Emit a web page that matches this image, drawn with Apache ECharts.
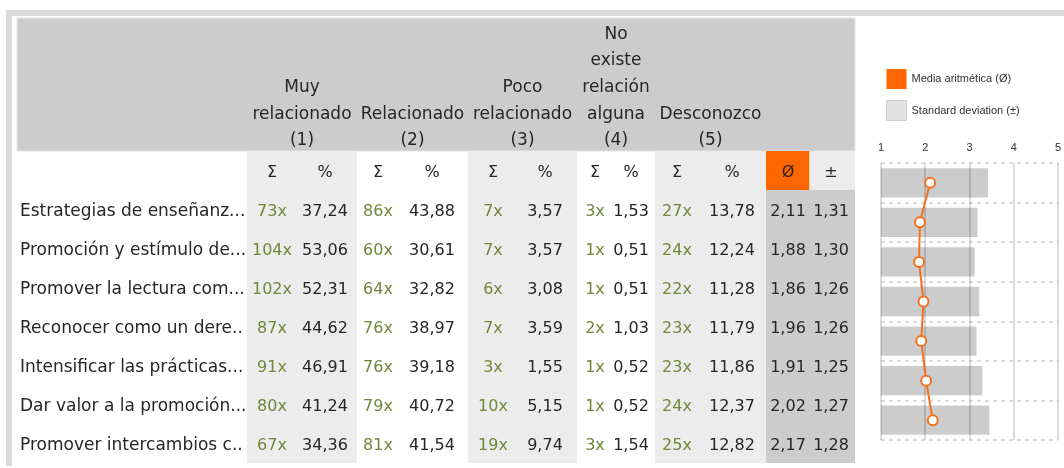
<!DOCTYPE html>
<html>
<head>
<meta charset="utf-8">
<script src="https://cdn.jsdelivr.net/npm/echarts@6/dist/echarts.min.js"></script>
<style>
  html, body { margin: 0; padding: 0; background: #fff; }
  #main { width: 1064px; height: 468px; }
</style>
</head>
<body>
<div id="main"></div>
<script>
// filas (texto visible, recortado como en el original)
const rowLabels = [
  'Estrategias de enseñanz...',
  'Promoción y estímulo de...',
  'Promover la lectura com...',
  'Reconocer como un dere..',
  'Intensificar las prácticas...',
  'Dar valor a la promoción...',
  'Promover intercambios c..'
];
// columnas de respuesta
const groupNames = [
  ['Muy', 'relacionado', '(1)'],
  ['Relacionado', '(2)'],
  ['Poco', 'relacionado', '(3)'],
  ['No', 'existe', 'relación', 'alguna', '(4)'],
  ['Desconozco', '(5)']
];
// Σ por fila y columna
const counts = [
  [73, 86, 7, 3, 27],
  [104, 60, 7, 1, 24],
  [102, 64, 6, 1, 22],
  [87, 76, 7, 2, 23],
  [91, 76, 3, 1, 23],
  [80, 79, 10, 1, 24],
  [67, 81, 19, 3, 25]
];
// % por fila y columna
const percents = [
  [37.24, 43.88, 3.57, 1.53, 13.78],
  [53.06, 30.61, 3.57, 0.51, 12.24],
  [52.31, 32.82, 3.08, 0.51, 11.28],
  [44.62, 38.97, 3.59, 1.03, 11.79],
  [46.91, 39.18, 1.55, 0.52, 11.86],
  [41.24, 40.72, 5.15, 0.52, 12.37],
  [34.36, 41.54, 9.74, 1.54, 12.82]
];
const means = [2.11, 1.88, 1.86, 1.96, 1.91, 2.02, 2.17];
const stdDevs = [1.31, 1.30, 1.26, 1.26, 1.25, 1.27, 1.28];
const scaleTicks = [1, 2, 3, 4, 5];

// layout de la tabla (px desde el borde izquierdo de la tabla)
const labelX = 3;
const groupEdges = [230, 340, 451, 560, 638, 749];
const sigmaX = [255, 361, 476, 578, 660];
const pctX = [308, 415, 528, 614, 715];
const meanX = 771, sdX = 814, tableW = 838;

const FONT = 'DejaVu Sans';
const ORANGE = '#ff6600';
const TXT = '#262626';
const fmt = v => v.toFixed(2).replace('.', ',');

let myChart = echarts.init(document.getElementById('main'));

// cabecera: líneas alineadas abajo
const headCells = [];
groupNames.forEach((lines, g) => {
  const cx = (groupEdges[g] + groupEdges[g + 1]) / 2;
  lines.forEach((t, i) => headCells.push([cx, 5 - lines.length + i, t]));
});

// celdas del cuerpo: [x, fila, texto, tipo] (0 número, 1 recuento, 2 etiqueta)
const bodyCells = [];
sigmaX.forEach((x, g) => {
  bodyCells.push([x, 0, 'Σ', 0]);
  bodyCells.push([pctX[g], 0, '%', 0]);
});
bodyCells.push([meanX, 0, 'Ø', 0]);
bodyCells.push([sdX, 0, '±', 0]);
rowLabels.forEach((label, r) => {
  bodyCells.push([labelX, r + 1, label, 2]);
  counts[r].forEach((c, g) => {
    bodyCells.push([sigmaX[g], r + 1, c + 'x', 1]);
    bodyCells.push([pctX[g], r + 1, fmt(percents[r][g]), 0]);
  });
  bodyCells.push([meanX, r + 1, fmt(means[r]), 0]);
  bodyCells.push([sdX, r + 1, fmt(stdDevs[r]), 0]);
});

// fondos: [x0, x1, fila0, fila1, color]
const bands = [
  [groupEdges[0], groupEdges[1], 0, 7, '#ececec'],
  [groupEdges[2], groupEdges[3], 0, 7, '#ececec'],
  [groupEdges[4], groupEdges[5], 0, 7, '#ececec'],
  [groupEdges[5], (meanX + sdX) / 2, 0, 0, ORANGE],
  [(meanX + sdX) / 2, tableW, 0, 0, '#ececec'],
  [groupEdges[5], tableW, 1, 7, '#cccccc']
];

const hiddenAxis = { show: false };

myChart.setOption({
  animation: false,
  textStyle: { fontFamily: FONT },
  graphic: [
    { type: 'rect', shape: { x: 6, y: 10, width: 1058, height: 6 }, style: { fill: '#dadada' } },
    { type: 'rect', shape: { x: 6, y: 10, width: 6, height: 456 }, style: { fill: '#dadada' } }
  ],
  legend: {
    orient: 'vertical',
    left: 881,
    top: 64,
    itemWidth: 20,
    itemHeight: 20,
    itemGap: 11,
    textStyle: { fontFamily: 'Liberation Sans', fontSize: 11, color: '#333' },
    data: [
      { name: 'Media aritmética (Ø)', icon: 'rect', itemStyle: { color: ORANGE, borderWidth: 0 } },
      { name: 'Standard deviation (±)', icon: 'rect', itemStyle: { color: '#e2e2e2', borderColor: '#cfcfcf', borderWidth: 1 } }
    ]
  },
  grid: [
    { left: 17, top: 18, width: tableW, height: 133, show: true, backgroundColor: '#cccccc', borderColor: '#e2e2e2', borderWidth: 1 },
    { left: 17, top: 151, width: tableW, height: 312 },
    { left: 881, top: 163, width: 178, height: 277 }
  ],
  xAxis: [
    { gridIndex: 0, type: 'value', min: 0, max: tableW, ...hiddenAxis },
    { gridIndex: 1, type: 'value', min: 0, max: tableW, ...hiddenAxis },
    {
      gridIndex: 2, type: 'value', position: 'top',
      min: scaleTicks[0], max: scaleTicks[scaleTicks.length - 1], interval: 1,
      z: 5,
      axisLine: { show: false },
      axisTick: { show: false },
      axisLabel: { margin: 10, fontFamily: 'Liberation Sans', fontSize: 11, color: '#333' },
      splitLine: { show: true, lineStyle: { color: 'rgba(0,0,0,0.14)', width: 2 } }
    }
  ],
  yAxis: [
    { gridIndex: 0, type: 'category', inverse: true, data: ['0', '1', '2', '3', '4'], ...hiddenAxis },
    { gridIndex: 1, type: 'category', inverse: true, data: [''].concat(rowLabels), ...hiddenAxis },
    {
      gridIndex: 2, type: 'category', inverse: true, data: rowLabels,
      z: 5,
      axisLine: { show: false },
      axisTick: { show: false },
      axisLabel: { show: false },
      splitLine: { show: true, lineStyle: { color: '#dcdcdc', width: 2, type: [4, 4] } }
    }
  ],
  series: [
    {
      type: 'custom', xAxisIndex: 1, yAxisIndex: 1, silent: true, z: 1,
      data: bands,
      renderItem: (params, api) => {
        const a = api.coord([api.value(0), api.value(2)]);
        const b = api.coord([api.value(1), api.value(3)]);
        const h = api.size([0, 1])[1];
        return {
          type: 'rect',
          shape: { x: a[0], y: a[1] - h / 2, width: b[0] - a[0], height: b[1] - a[1] + h },
          style: { fill: bands[params.dataIndex][4] }
        };
      }
    },
    {
      type: 'custom', xAxisIndex: 0, yAxisIndex: 0, silent: true, z: 3,
      data: headCells,
      renderItem: (params, api) => {
        const p = api.coord([api.value(0), api.value(1)]);
        return {
          type: 'text', x: p[0], y: p[1] + 3,
          style: {
            text: headCells[params.dataIndex][2], align: 'center', verticalAlign: 'middle',
            font: '17px "' + FONT + '"', fill: TXT
          }
        };
      }
    },
    {
      type: 'custom', xAxisIndex: 1, yAxisIndex: 1, silent: true, z: 3,
      data: bodyCells,
      renderItem: (params, api) => {
        const p = api.coord([api.value(0), api.value(1)]);
        const cell = bodyCells[params.dataIndex];
        const isLabel = cell[3] === 2;
        return {
          type: 'text', x: p[0], y: p[1] + 2.5,
          style: {
            text: cell[2], align: isLabel ? 'left' : 'center', verticalAlign: 'middle',
            font: (isLabel ? '17px' : '16px') + ' "' + FONT + '"',
            fill: cell[3] === 1 ? '#72873a' : TXT
          }
        };
      }
    },
    {
      name: 'Standard deviation (±)',
      type: 'bar', xAxisIndex: 2, yAxisIndex: 2,
      barWidth: '74%',
      itemStyle: { color: '#cccccc' },
      data: means.map((m, i) => +(m + stdDevs[i]).toFixed(2))
    },
    {
      name: 'Media aritmética (Ø)',
      type: 'line', xAxisIndex: 2, yAxisIndex: 2,
      z: 10,
      symbol: 'circle', symbolSize: 10,
      lineStyle: { color: '#f5701e', width: 2 },
      itemStyle: { color: '#fff', borderColor: '#f5701e', borderWidth: 2 },
      data: means
    }
  ]
});
window.addEventListener('resize', function () { myChart.resize(); });
</script>
</body>
</html>
